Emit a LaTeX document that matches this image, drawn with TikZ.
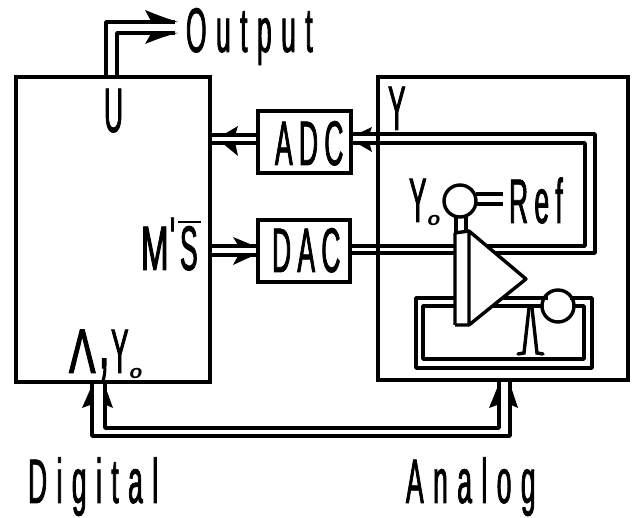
\documentclass[tikz,border=0pt]{standalone}
\usepackage{fontspec}
\usepackage{graphicx}
\newfontfamily\spaced[FakeStretch=0.42,FakeBold=1.2,LetterSpace=15]{Liberation Sans}
\newfontfamily\tight[FakeStretch=0.42,FakeBold=1.2]{Liberation Sans}
\newfontfamily\abc[FakeStretch=0.42,FakeBold=1.2,LetterSpace=10]{Liberation Sans}
\newfontfamily\sub[FakeStretch=1.1]{Liberation Sans Bold Italic}
\begin{document}
\begin{tikzpicture}[x=1pt,y=-1pt,
  box/.style={draw,line width=3.4pt,minimum width=0pt,inner sep=0pt,outer sep=0pt,rectangle},
  wire/.style={line width=3.4pt,line join=round},
  circ/.style={draw,line width=3.4pt,circle,fill=white,inner sep=0pt,outer sep=0pt,minimum size=32pt},
  lab/.style={anchor=base west,inner sep=0pt,outer sep=0pt,font=\spaced\fontsize{63}{63}\selectfont},
  sym/.style={anchor=base west,inner sep=0pt,outer sep=0pt,font=\tight\fontsize{63}{63}\selectfont},
  blk/.style={anchor=base west,inner sep=0pt,outer sep=0pt,font=\abc\fontsize{63}{63}\selectfont},
  low/.style={anchor=base west,inner sep=0pt,outer sep=0pt,font=\sub\fontsize{19}{19}\selectfont},
  barb/.style={fill=black,draw=none}]
\useasboundingbox (0,0) rectangle (633,518);
% boxes
\node[box,minimum width=194pt,minimum height=305pt] (dig) at (113,229.5) {};
\node[box,minimum width=250pt,minimum height=303pt] (ana) at (503,228.5) {};
\node[box,minimum width=93pt,minimum height=62pt] (adc) at (304.5,142) {};
\node[box,minimum width=92pt,minimum height=62pt] (dac) at (304,251) {};
% amplifier
\coordinate (bartl) at (455,233);
\coordinate (barbl) at (455,325);
\coordinate (tritop) at (469,231);
\coordinate (tribot) at (469,325);
\coordinate (apex) at (526,279);
\draw[wire,fill=white] (tritop) -- (apex) -- (tribot) -- cycle;
\draw[wire] (bartl) -- (tritop) (barbl) -- (tribot) (bartl) -- (barbl);
% circles
\node[circ] (sum) at (460,201) {};
\node[circ] (gain) at (558,306) {};
% output
\coordinate (outa) at (175,22);
\coordinate (outb) at (175,33);
\draw[wire] (106,77) |- (outa);
\draw[wire] (117,77) |- (outb);
\fill[barb] (178,22) .. controls (165,18) and (155,14) .. (145,10) -- (152,23) -- cycle;
\fill[barb] (178,33) .. controls (165,36) and (155,40) .. (145,44) -- (152,32) -- cycle;
% ADC wires and feedback loop
\coordinate (t1) at (495,253);
\coordinate (t2) at (487,246);
\draw[wire] (dig.east |- 0,135) -- (adc.west |- 0,135);
\draw[wire] (dig.east |- 0,143) -- (adc.west |- 0,143);
\draw[wire] (adc.east |- 0,134) -- (595,134) -- (595,253) -- (t1);
\draw[wire] (adc.east |- 0,143) -- (585,143) -- (585,246) -- (t2);
\fill[barb] (221,136) -- (238,126) -- (235,136) -- cycle;
\fill[barb] (221,142) -- (238,156) -- (235,142) -- cycle;
\fill[barb] (355,135) -- (372,127) -- (369,135) -- cycle;
\fill[barb] (355,142) -- (372,152) -- (369,142) -- cycle;
% DAC wires
\draw[wire] (dig.east |- 0,246) -- (dac.west |- 0,246);
\draw[wire] (dig.east |- 0,255) -- (dac.west |- 0,255);
\fill[barb] (257,247) -- (233,237) -- (239,247) -- cycle;
\fill[barb] (257,254) -- (233,265) -- (239,254) -- cycle;
\draw[wire] (dac.east |- 0,246) -- (bartl |- 0,246);
\draw[wire] (dac.east |- 0,253) -- (bartl |- 0,253);
% summing node
\draw[wire] (sum.east |- 0,194) -- (503,194);
\draw[wire] (sum.east |- 0,204) -- (503,204);
\draw[wire] (456,216) -- (456,233);
\draw[wire] (466,216) -- (466,233);
% lower loop
\draw[wire] (bartl |- 0,298) -- (416,298) -- (416,368) -- (592,368) -- (592,298) -- (570,298);
\draw[wire] (bartl |- 0,306) -- (423,306) -- (423,359) -- (584,359) -- (584,306) -- (gain.east);
\draw[wire] (503,298) -- (548,298);
\draw[wire] (493,306) -- (gain.west);
\draw[line width=3.4pt,line cap=round] (529,308) -- (524,353) -- (518,354);
\draw[line width=3.4pt,line cap=round] (532,308) -- (537,353) -- (543,354);
% bottom wires
\draw[wire] (92,382) -- (92,436) -- (510,436) -- (510,380);
\draw[wire] (105,382) -- (105,428) -- (499,428) -- (499,380);
\fill[barb] (93,383) -- (82,408) -- (93,404) -- cycle;
\fill[barb] (104,383) -- (113,408) -- (104,404) -- cycle;
\fill[barb] (500,381) -- (489,408) -- (500,404) -- cycle;
\fill[barb] (509,381) -- (518,408) -- (509,404) -- cycle;
% labels
\node[lab] (loutput) at (186,52) {Output};
\node[sym] (lu) at (104,132) {U};
\node[blk] (ladc) at (275,165) {ADC};
\node[blk] (ldac) at (272,272) {DAC};
\node[sym] (ly) at (388,130) {Y};
\node[sym] (lyo) at (409,222) {Y};
\node[low] (lyos) at (427.5,226) {o};
\node[blk] (lref) at (509,223) {Ref};
\node[sym] (lm) at (141,270) {\scalebox{1.25}[1]{M}};
\node[sym] (lprime) at (170,261) {'};
\node[sym] (ls) at (180,270) {S};
\draw[line width=1.5pt] (178,222) -- (201,222);
\node[sym] (llam) at (69,373) {\scalebox{1.5}[1]{Λ}};
\node[sym] (lcomma) at (99,368) {\scalebox{1.4}{,}};
\node[sym] (ly2) at (111,373) {Y};
\node[low] (ly2s) at (129.5,379) {o};
\node[lab] (ldig) at (28,503) {Digital};
\node[lab] (lana) at (406,503) {Analog};
\end{tikzpicture}
\end{document}
